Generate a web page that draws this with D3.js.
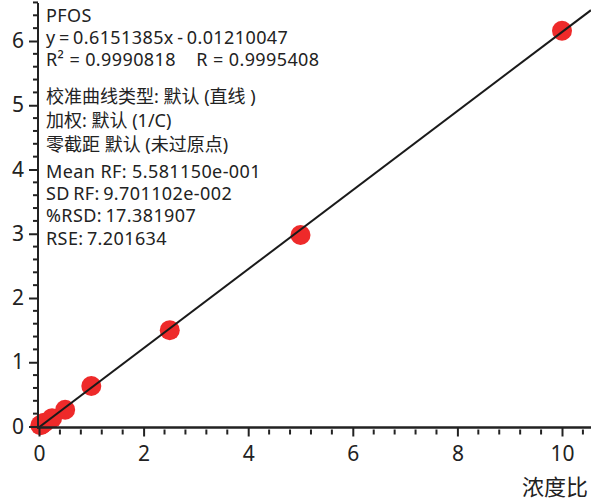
<!DOCTYPE html>
<html>
<head>
<meta charset="utf-8">
<script src="https://cdn.jsdelivr.net/npm/d3@7"></script>
<style>
  body { margin: 0; background: #fff; }
  svg { display: block; }
  text { font-family: "Noto Sans", "Noto Sans CJK SC", sans-serif; fill: #222; }
</style>
</head>
<body>
<script>
// calibration points (concentration ratio vs response ratio)
const xValues = [0.025, 0.05, 0.1, 0.25, 0.5, 1, 2.5, 5, 10]
const yValues = [0.02, 0.03, 0.06, 0.13, 0.26, 0.63, 1.50, 2.98, 6.16]
const slope = 0.6151385
const intercept = -0.01210047
const xTicks = [0, 2, 4, 6, 8, 10]
const yTicks = [0, 1, 2, 3, 4, 5, 6]
const xLabel = "浓度比"
const infoLines = [
  "PFOS",
  "y\u2009=\u20090.6151385x\u2009-\u20090.01210047",
  "R² = 0.9990818    R = 0.9995408",
  "",
  "校准曲线类型: 默认 (直线 )",
  "加权: 默认 (1/C)",
  "零截距 默认 (未过原点)",
  "",
  "Mean RF: 5.581150e-001",
  "SD\u2009RF:\u20099.701102e-002",
  "%RSD:\u200917.381907",
  "RSE:\u20097.201634"
]

const width = 591, height = 501
const svg = d3.select("body").append("svg")
  .attr("width", width).attr("height", height)

const x = d3.scaleLinear().domain([0, 10]).range([39, 562])
const y = d3.scaleLinear().domain([0, 6]).range([426.5, 41])

// clip for the fit line
svg.append("clipPath").attr("id", "plot")
  .append("rect").attr("x", 38).attr("y", 0).attr("width", width - 38).attr("height", 427)

const xEnd = x.invert(width)

// points
const pts = xValues.map((v, i) => ({x: v, y: yValues[i]}))
svg.selectAll("circle.pt")
  .data(pts)
  .join("circle")
    .attr("class", "pt")
    .attr("cx", d => x(d.x))
    .attr("cy", d => y(d.y))
    .attr("r", 10)
    .attr("fill", "#ee2a2a")

// fit line on top of points
svg.append("line")
  .attr("clip-path", "url(#plot)")
  .attr("x1", x(0)).attr("y1", y(intercept))
  .attr("x2", x(xEnd)).attr("y2", y(slope * xEnd + intercept))
  .attr("stroke", "#1a1a1a").attr("stroke-width", 2)

// x axis
const xMinor = d3.range(0, 10.41, 0.4).filter(v => Math.abs(v / 2 - Math.round(v / 2)) > 0.01)
const xAxis = d3.axisBottom(x).tickValues(xTicks).tickSize(9).tickPadding(10).tickFormat(d3.format("d"))
const gx = svg.append("g").attr("transform", `translate(0,${y(0) + 1})`).call(xAxis)
gx.select(".domain").remove()
gx.selectAll(".tick line").attr("stroke", "#222").attr("stroke-width", 2)
gx.selectAll(".tick text").attr("font-size", 21).attr("fill", "#222")
  .attr("font-family", "Noto Sans")
gx.selectAll("line.minor").data(xMinor).join("line")
  .attr("class", "minor")
  .attr("x1", d => x(d)).attr("x2", d => x(d))
  .attr("y1", 2).attr("y2", 7)
  .attr("stroke", "#222").attr("stroke-width", 2)
svg.append("line")
  .attr("x1", 37).attr("x2", width).attr("y1", y(0) + 1).attr("y2", y(0) + 1)
  .attr("stroke", "#222").attr("stroke-width", 2.5)

// y axis
const yMinor = d3.range(0, 6.61, 0.2).filter(v => Math.abs(v - Math.round(v)) > 0.01)
const yAxis = d3.axisLeft(y).tickValues(yTicks).tickSize(9).tickPadding(5).tickFormat(d3.format("d"))
const gy = svg.append("g").attr("transform", "translate(38,0)").call(yAxis)
gy.select(".domain").remove()
gy.selectAll(".tick line").attr("stroke", "#222").attr("stroke-width", 2)
gy.selectAll(".tick text").attr("font-size", 21).attr("fill", "#222")
  .attr("font-family", "Noto Sans")
gy.selectAll("line.minor").data(yMinor).join("line")
  .attr("class", "minor")
  .attr("y1", d => y(d)).attr("y2", d => y(d))
  .attr("x1", -5).attr("x2", 0)
  .attr("stroke", "#222").attr("stroke-width", 2)
svg.append("line")
  .attr("x1", 38).attr("x2", 38).attr("y1", 3).attr("y2", y(0) + 2)
  .attr("stroke", "#222").attr("stroke-width", 2)

// x axis title
svg.append("text")
  .attr("x", 588).attr("y", 495)
  .attr("text-anchor", "end")
  .attr("font-size", 22)
  .text(xLabel)

// info block
const lineY = [22, 44, 66, null, 103, 127, 151, null, 178, 200, 222, 245]
const info = svg.append("g").attr("font-size", 18)
infoLines.forEach((l, i) => {
  if (!l) return
  info.append("text")
    .attr("x", 46).attr("y", lineY[i])
    .attr("letter-spacing", /[\u4e00-\u9fff]/.test(l) ? 0 : 0.4)
    .style("white-space", "pre")
    .text(l)
})
</script>
</body>
</html>
